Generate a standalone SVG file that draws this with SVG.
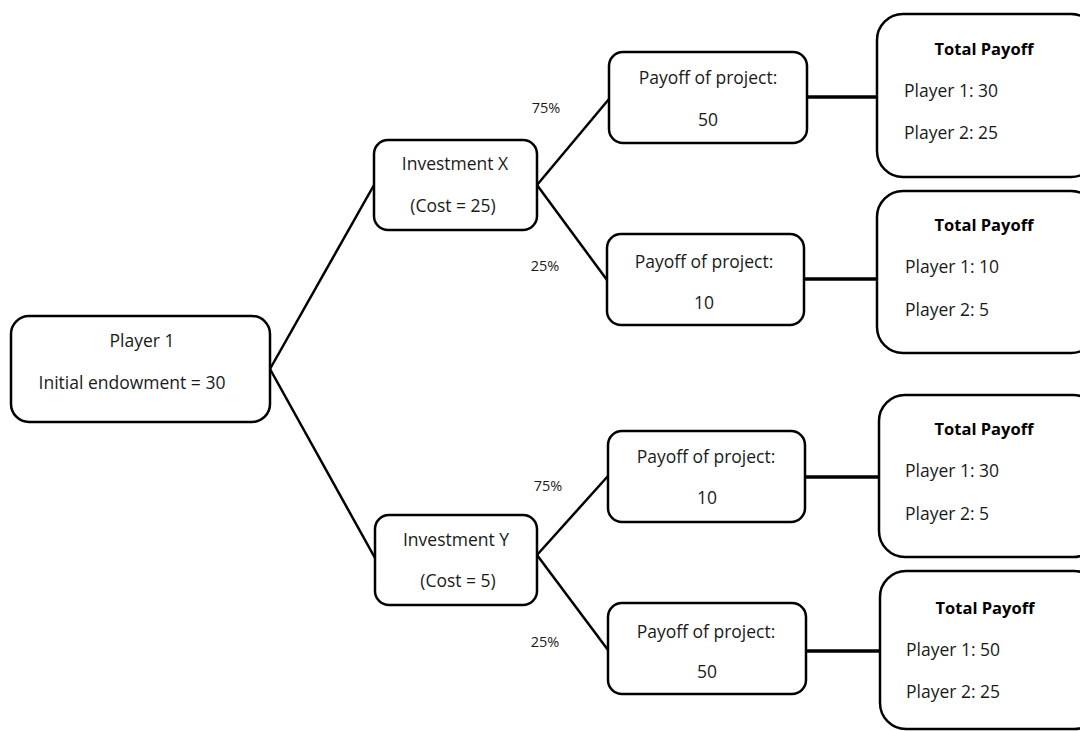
<svg xmlns="http://www.w3.org/2000/svg" width="1080" height="731" viewBox="0 0 1080 731">
<style>
.box{fill:#fff;stroke:#000;stroke-width:2.5}
.t{font-family:"Open Sans","Liberation Sans",sans-serif;font-size:17.5px;fill:#1a1a1a;text-anchor:middle}
.l{font-family:"Open Sans","Liberation Sans",sans-serif;font-size:17.5px;fill:#1a1a1a}
.b{font-family:"Open Sans","Liberation Sans",sans-serif;font-size:16.5px;font-weight:bold;fill:#000;text-anchor:middle}
.p{font-family:"Open Sans","Liberation Sans",sans-serif;font-size:14.5px;fill:#1a1a1a;text-anchor:middle}
.c{stroke:#000;stroke-width:2.5;fill:none}
.ct{stroke:#000;stroke-width:3.5;fill:none}
</style>
<rect width="1080" height="731" fill="#fff"/>
<g id="connectors">
<line class="c" x1="270" y1="369" x2="374" y2="185"/>
<line class="c" x1="270" y1="369" x2="375" y2="558"/>
<line class="c" x1="537" y1="185" x2="609" y2="99"/>
<line class="c" x1="537" y1="185" x2="607" y2="280"/>
<line class="c" x1="537" y1="555" x2="608" y2="476"/>
<line class="c" x1="537" y1="555" x2="608" y2="650"/>
<line class="ct" x1="807" y1="97" x2="877" y2="97"/>
<line class="ct" x1="804" y1="279" x2="877" y2="279"/>
<line class="ct" x1="805" y1="477" x2="879" y2="477"/>
<line class="ct" x1="806" y1="651" x2="880" y2="651"/>
<text class="p" x="546" y="113">75%</text>
<text class="p" x="545" y="271">25%</text>
<text class="p" x="548" y="491">75%</text>
<text class="p" x="545" y="647">25%</text>
</g>
<g id="player1">
<rect class="box" x="11" y="316" width="259" height="106" rx="18"/>
<text class="t" x="142" y="347">Player 1</text>
<text class="t" x="132" y="389">Initial endowment = 30</text>
</g>
<g id="investX">
<rect class="box" x="374" y="140" width="163" height="90" rx="14"/>
<text class="t" x="455" y="170">Investment X</text>
<text class="t" x="453" y="212">(Cost = 25)</text>
</g>
<g id="investY">
<rect class="box" x="375" y="515" width="162" height="90" rx="14"/>
<text class="t" x="456" y="546">Investment Y</text>
<text class="t" x="458" y="587">(Cost = 5)</text>
</g>
<g id="payoff1">
<rect class="box" x="609" y="52" width="198" height="91" rx="14"/>
<text class="t" x="708" y="84">Payoff of project:</text>
<text class="t" x="708" y="126">50</text>
</g>
<g id="payoff2">
<rect class="box" x="607" y="234" width="197" height="91" rx="14"/>
<text class="t" x="704" y="268">Payoff of project:</text>
<text class="t" x="704" y="309">10</text>
</g>
<g id="payoff3">
<rect class="box" x="608" y="431" width="197" height="91" rx="14"/>
<text class="t" x="706" y="463">Payoff of project:</text>
<text class="t" x="707" y="504">10</text>
</g>
<g id="payoff4">
<rect class="box" x="608" y="603" width="198" height="91" rx="14"/>
<text class="t" x="706" y="638">Payoff of project:</text>
<text class="t" x="707" y="678">50</text>
</g>
<g id="total1">
<rect class="box" x="877" y="14" width="220" height="163" rx="26"/>
<text class="b" x="984" y="55">Total Payoff</text>
<text class="l" x="904" y="97">Player 1: 30</text>
<text class="l" x="904" y="139">Player 2: 25</text>
</g>
<g id="total2">
<rect class="box" x="877" y="191" width="220" height="162" rx="26"/>
<text class="b" x="984" y="231">Total Payoff</text>
<text class="l" x="905" y="273">Player 1: 10</text>
<text class="l" x="905" y="316">Player 2: 5</text>
</g>
<g id="total3">
<rect class="box" x="879" y="395" width="220" height="162" rx="26"/>
<text class="b" x="984" y="435">Total Payoff</text>
<text class="l" x="905" y="477">Player 1: 30</text>
<text class="l" x="905" y="520">Player 2: 5</text>
</g>
<g id="total4">
<rect class="box" x="880" y="571" width="220" height="158" rx="26"/>
<text class="b" x="985" y="614">Total Payoff</text>
<text class="l" x="906" y="656">Player 1: 50</text>
<text class="l" x="906" y="698">Player 2: 25</text>
</g>
</svg>
